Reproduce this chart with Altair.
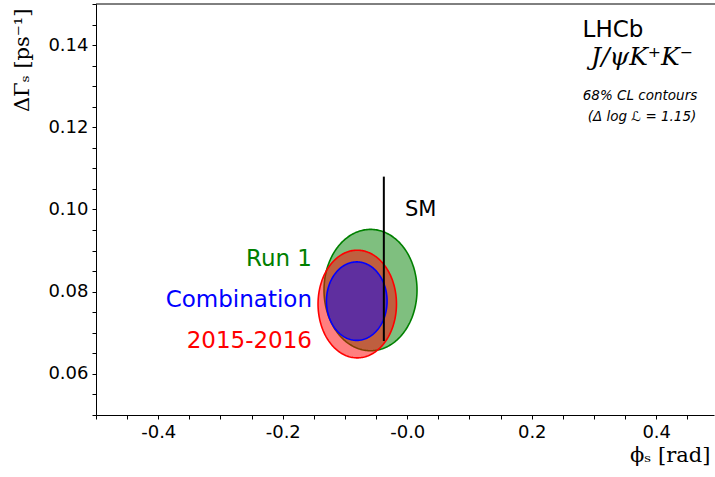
import altair as alt
import numpy as np
import pandas as pd

# ---- data ----
names = ["Run 1", "2015-2016", "Combination"]
centre_phi = [-0.059, -0.0803, -0.0811]          # rad
centre_dg = [0.0804, 0.0770, 0.0777]              # ps^-1
half_phi = [0.0747, 0.0630, 0.0487]               # contour half-width in phi_s
half_dg = [0.01476, 0.0131, 0.00955]              # contour half-height in DeltaGamma_s
colours = ["#008000", "#ff0000", "#0000ff"]

sm_phi = [-0.0376]
sm_dg_low = [0.068]
sm_dg_high = [0.108]

x_ticks = [-0.5, -0.45, -0.4, -0.35, -0.3, -0.25, -0.2, -0.15, -0.1, -0.05, 0.0,
           0.05, 0.1, 0.15, 0.2, 0.25, 0.3, 0.35, 0.4, 0.45]
x_major = [-0.4, -0.2, 0.0, 0.2, 0.4]
x_major_labels = ["-0.4", "-0.2", "-0.0", "0.2", "0.4"]
y_ticks = [0.05, 0.055, 0.06, 0.065, 0.07, 0.075, 0.08, 0.085, 0.09, 0.095, 0.10,
           0.105, 0.11, 0.115, 0.12, 0.125, 0.13, 0.135, 0.14, 0.145, 0.15]
y_major = [0.06, 0.08, 0.10, 0.12, 0.14]
y_major_labels = ["0.06", "0.08", "0.10", "0.12", "0.14"]

W, H = 618, 411
X_DOMAIN = [-0.5, 0.4928]
Y_DOMAIN = [0.05, 0.15]


def label_expr(vals, labs):
    expr = "''"
    for v, l in reversed(list(zip(vals, labs))):
        expr = f"abs(datum.value - ({v})) < 1e-6 ? '{l}' : ({expr})"
    return expr


xscale = alt.Scale(domain=X_DOMAIN, nice=False, zero=False)
yscale = alt.Scale(domain=Y_DOMAIN, nice=False, zero=False)

xaxis = alt.Axis(values=x_ticks, labelExpr=label_expr(x_major, x_major_labels),
                 grid=False, tickSize=4, labelPadding=4, labelOverlap=False, labelFlush=False,
                 title="ϕₛ [rad]", titleFont="DejaVu Serif", titleFontSize=21,
                 titleFontWeight="normal", titleAnchor="end", titleAlign="right",
                 titleBaseline="middle", titleX=614, titleY=40)
yaxis = alt.Axis(values=y_ticks, labelExpr=label_expr(y_major, y_major_labels),
                 grid=False, tickSize=4, labelPadding=4, labelOverlap=False, labelFlush=False,
                 title="ΔΓₛ [ps⁻¹]", titleFont="DejaVu Serif", titleFontSize=21,
                 titleFontWeight="normal", titleAngle=270, titleAlign="right",
                 titleBaseline="middle", titleX=-74, titleY=4)


def X(field):
    return alt.X(field, scale=xscale, axis=xaxis)


def Y(field):
    return alt.Y(field, scale=yscale, axis=yaxis)


layers = []
for k, name in enumerate(names):
    t = np.linspace(0, np.pi, 121)
    fill_df = pd.DataFrame({
        "phi": centre_phi[k] + half_phi[k] * np.cos(t),
        "lo": centre_dg[k] - half_dg[k] * np.sin(t),
        "hi": centre_dg[k] + half_dg[k] * np.sin(t),
    })
    t2 = np.linspace(0, 2 * np.pi, 241)
    line_df = pd.DataFrame({
        "i": np.arange(len(t2)),
        "phi": centre_phi[k] + half_phi[k] * np.cos(t2),
        "dg": centre_dg[k] + half_dg[k] * np.sin(t2),
    })
    area = alt.Chart(fill_df).mark_area(color=colours[k], opacity=0.5, orient="vertical").encode(
        x=X("phi:Q"), y=Y("hi:Q"), y2="lo:Q",
    )
    line = alt.Chart(line_df).mark_line(color=colours[k], strokeWidth=1.6).encode(
        x=X("phi:Q"), y=Y("dg:Q"), order="i:Q",
    )
    layers += [area, line]

sm_df = pd.DataFrame({"phi": sm_phi, "lo": sm_dg_low, "hi": sm_dg_high})
sm = alt.Chart(sm_df).mark_rule(color="black", strokeWidth=2).encode(
    x=X("phi:Q"), y=Y("lo:Q"), y2="hi:Q",
)
layers.append(sm)

# top frame line
frame_df = pd.DataFrame({"a": [0]})
frame = alt.Chart(frame_df).mark_rule(color="black", strokeWidth=1).encode(
    x=alt.value(0), x2=alt.value(W + 2), y=alt.value(0)
)
layers.append(frame)


def text_layer(txt, x, y, size, colour="black", font="DejaVu Sans", style="normal", align="center"):
    df = pd.DataFrame({"t": [txt]})
    return alt.Chart(df).mark_text(
        fontSize=size, color=colour, font=font, fontStyle=style, align=align, baseline="middle"
    ).encode(text="t:N", x=alt.value(x), y=alt.value(y))


layers += [
    text_layer("Run 1", 216, 255, 23, "#008000", align="right"),
    text_layer("Combination", 216, 296, 23, "#0000ff", align="right"),
    text_layer("2015-2016", 216, 337, 23, "#ff0000", align="right"),
    text_layer("SM", 309, 206, 21, "black", align="left"),
    text_layer("LHCb", 517, 26, 23),
    text_layer("J/ψK⁺K⁻", 546, 53, 25, font="DejaVu Serif", style="italic"),
    text_layer("68% CL contours", 544, 92, 13.5, style="italic"),
    text_layer("(Δ log ℒ = 1.15)", 546, 113, 13.5, style="italic"),
]

chart = alt.layer(*layers).properties(
    width=W, height=H,
    autosize=alt.AutoSizeParams(type="none"),
    padding={"left": 96, "top": 4, "right": 1, "bottom": 62},
).configure_view(stroke=None).configure_axis(
    labelFont="DejaVu Sans", labelFontSize=18, labelColor="black",
    domainColor="black", tickColor="black", titleColor="black",
    domainWidth=1, tickWidth=1,
)

chart.save("out.html", embed_options={"renderer": "svg", "actions": False})
